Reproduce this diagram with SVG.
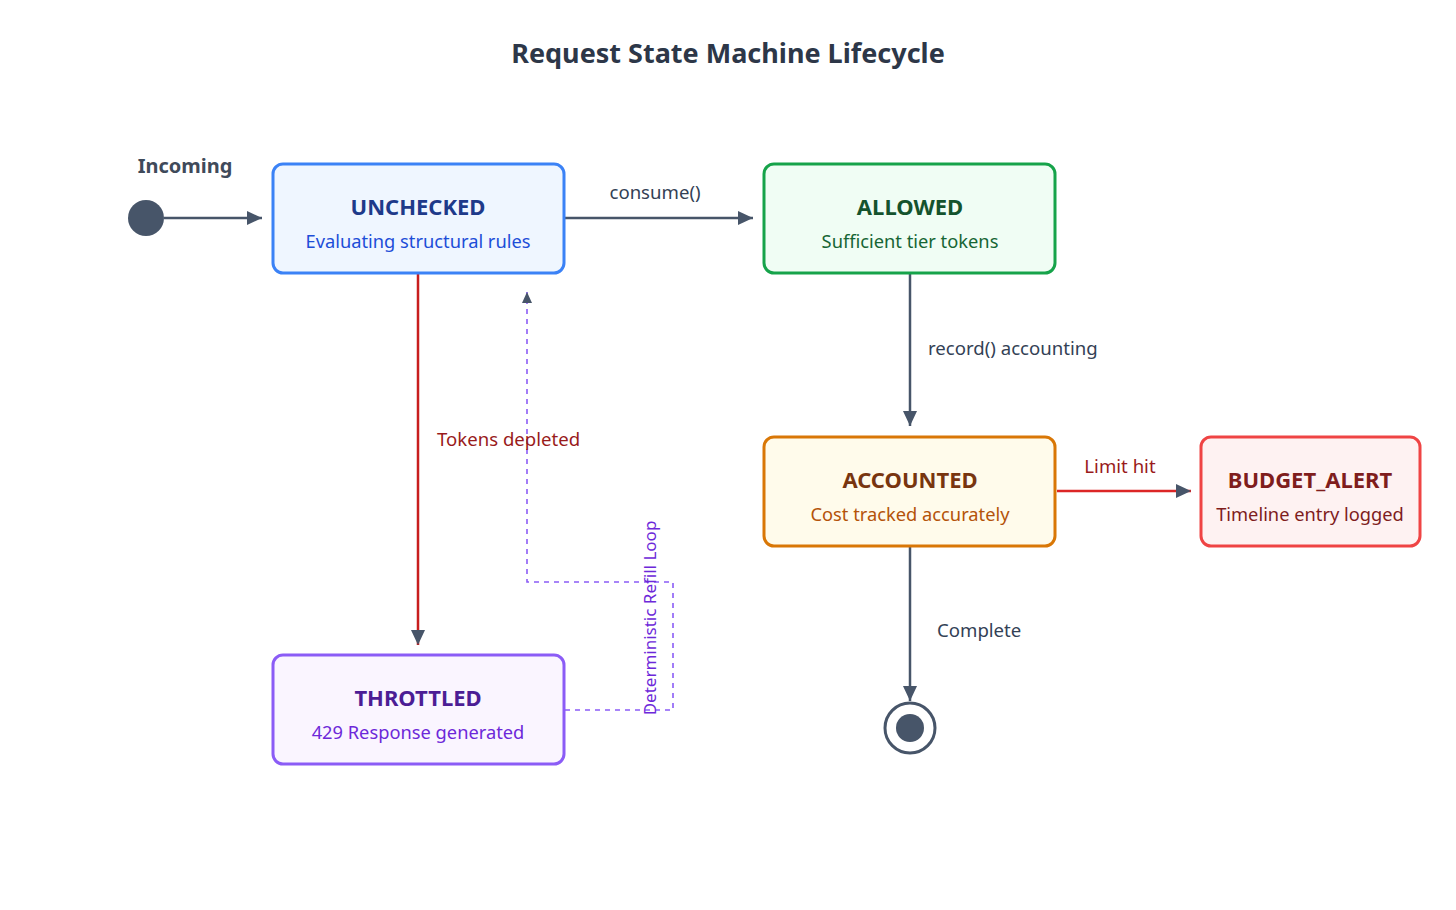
<svg xmlns="http://www.w3.org/2000/svg" width="1456" height="910" viewBox="0 0 1456 910">
<defs>
<marker id="arr" markerUnits="userSpaceOnUse" markerWidth="16" markerHeight="14" refX="15" refY="7" orient="auto">
<path d="M0,0 L15,7 L0,14 Z" fill="#475569"/>
</marker>
<marker id="arrs" markerUnits="userSpaceOnUse" markerWidth="12" markerHeight="12" refX="11" refY="5" orient="auto">
<path d="M0,0 L11,5 L0,10 Z" fill="#475569"/>
</marker>
<style>
text{font-family:"Noto Sans","Open Sans","DejaVu Sans",sans-serif}
.title{font-size:27px;font-weight:700;fill:#2d3748}
.nt{font-size:22px;font-weight:700;text-anchor:middle}
.ns{font-size:18.3px;text-anchor:middle}
.lbl{font-size:18.6px;fill:#334155}
.box{stroke-width:3}
.edge{fill:none;stroke-width:2.5}
</style>
</defs>
<rect width="1456" height="910" fill="#ffffff"/>
<text class="title" x="728" y="63" text-anchor="middle">Request State Machine Lifecycle</text>

<g id="connectors">
<line class="edge" x1="164" y1="218" x2="262" y2="218" stroke="#475569" marker-end="url(#arr)"/>
<line class="edge" x1="565" y1="218" x2="753" y2="218" stroke="#475569" marker-end="url(#arr)"/>
<line class="edge" x1="910" y1="274" x2="910" y2="426" stroke="#475569" marker-end="url(#arr)"/>
<line class="edge" x1="1057" y1="491" x2="1191" y2="491" stroke="#dc2626" marker-end="url(#arr)"/>
<line class="edge" x1="910" y1="547" x2="910" y2="701" stroke="#475569" marker-end="url(#arr)"/>
<line class="edge" x1="418" y1="274" x2="418" y2="645" stroke="#c81e1e" marker-end="url(#arr)"/>
<path d="M565,710 H673 V582 H527 V292" fill="none" stroke="#8b5cf6" stroke-width="1.6" stroke-dasharray="5,5" marker-end="url(#arrs)"/>
<text class="lbl" x="655" y="199" text-anchor="middle">consume()</text>
<text class="lbl" x="928" y="355">record() accounting</text>
<text class="lbl" x="1120" y="473" text-anchor="middle" style="fill:#991b1b">Limit hit</text>
<text class="lbl" x="937" y="637">Complete</text>
<text class="lbl" x="437" y="446" style="fill:#991b1b">Tokens depleted</text>
<text x="656" y="618" text-anchor="middle" transform="rotate(-90 656 618)" style="font-size:17px;fill:#6d28d9">Deterministic Refill Loop</text>
</g>

<g id="start">
<text x="185" y="173" text-anchor="middle" style="font-size:20px;font-weight:700;fill:#3f4a5a">Incoming</text>
<circle cx="146" cy="218" r="18" fill="#475569"/>
</g>

<g id="unchecked">
<rect class="box" x="273" y="164" width="291" height="109" rx="10" fill="#eff6ff" stroke="#3b82f6"/>
<text class="nt" x="418" y="215" fill="#1e3a8a">UNCHECKED</text>
<text class="ns" x="418" y="248" fill="#1d4ed8">Evaluating structural rules</text>
</g>

<g id="allowed">
<rect class="box" x="764" y="164" width="291" height="109" rx="10" fill="#f0fdf4" stroke="#16a34a"/>
<text class="nt" x="910" y="215" fill="#14532d">ALLOWED</text>
<text class="ns" x="910" y="248" fill="#166534">Sufficient tier tokens</text>
</g>

<g id="accounted">
<rect class="box" x="764" y="437" width="291" height="109" rx="10" fill="#fffbeb" stroke="#d97706"/>
<text class="nt" x="910" y="488" fill="#78350f">ACCOUNTED</text>
<text class="ns" x="910" y="521" fill="#b45309">Cost tracked accurately</text>
</g>

<g id="budget_alert">
<rect class="box" x="1201" y="437" width="219" height="109" rx="10" fill="#fef2f2" stroke="#ef4444"/>
<text class="nt" x="1310" y="488" fill="#7f1d1d">BUDGET_ALERT</text>
<text class="ns" x="1310" y="521" fill="#7f1d1d">Timeline entry logged</text>
</g>

<g id="throttled">
<rect class="box" x="273" y="655" width="291" height="109" rx="10" fill="#faf5ff" stroke="#8b5cf6"/>
<text class="nt" x="418" y="706" fill="#4c1d95">THROTTLED</text>
<text class="ns" x="418" y="739" fill="#6d28d9">429 Response generated</text>
</g>

<g id="end">
<circle cx="910" cy="728" r="25" fill="#ffffff" stroke="#475569" stroke-width="3"/>
<circle cx="910" cy="728" r="14" fill="#475569"/>
</g>
</svg>
